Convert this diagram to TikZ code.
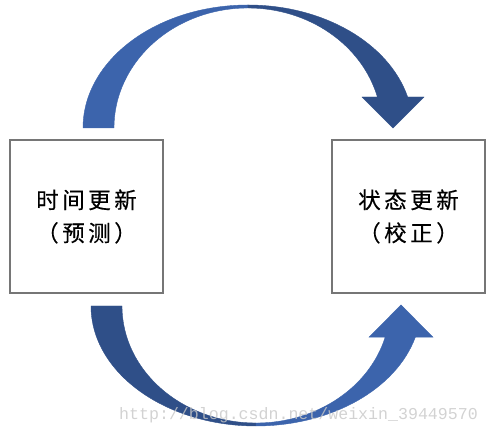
\documentclass[tikz,border=0pt]{standalone}
\usepackage{fontspec}
\newfontfamily\cjk[FakeBold=0.3]{Noto Sans CJK SC}
\newfontfamily\wmfont{Liberation Mono}
\definecolor{arrlight}{HTML}{3C64AC}
\definecolor{arrdark}{HTML}{2F4F88}
\definecolor{boxgray}{HTML}{767676}
\newcommand\cc[1]{\makebox[26pt]{#1}}
\tikzset{
  stbox/.style={draw=boxgray, line width=1.3pt, minimum width=153pt, minimum height=153pt, inner sep=0pt, align=center,
    font=\cjk\fontsize{22.5}{33}\selectfont},
  lightpart/.style={fill=arrlight, draw=arrlight, line width=0.4pt},
  darkpart/.style={fill=arrdark, draw=arrdark, line width=0.4pt},
  watermark/.style={anchor=base west, inner sep=0pt, text=black!22, opacity=0.8, font=\wmfont\fontsize{16.6}{20}\selectfont}
}
\begin{document}
\begin{tikzpicture}[x=1pt,y=1pt]
\useasboundingbox (0,0) rectangle (490,435);
% boxes
\node[stbox] (L) at (86.5,218.5) {\cc{时}\cc{间}\cc{更}\cc{新}\\\cc{（}\cc{预}\cc{测}\cc{）}};
\node[stbox] (R) at (408.5,218.5) {\cc{状}\cc{态}\cc{更}\cc{新}\\\cc{（}\cc{校}\cc{正}\cc{）}};
% top curved arrow (from L to R)
\fill[lightpart] (83,307) arc[start angle=180,end angle=90,x radius=165,y radius=123]
  -- (248,427) arc[start angle=90,end angle=180,x radius=134,y radius=120] -- cycle;
\fill[darkpart] (248,430) arc[start angle=90,end angle=14.6,x radius=165,y radius=123]
  -- (424,338) -- (393,307) -- (362,338) -- (377.4,338)
  arc[start angle=14.97,end angle=90,x radius=134,y radius=120] -- cycle;
% bottom curved arrow (from L to R)
\fill[darkpart] (91,129) arc[start angle=180,end angle=270,x radius=165,y radius=120]
  -- (256,12) arc[start angle=270,end angle=180,x radius=134,y radius=117] -- cycle;
\fill[lightpart] (256,9) arc[start angle=270,end angle=345,x radius=165,y radius=120]
  -- (433,97.9) -- (401,130) -- (369,97.9) -- (385.2,97.9)
  arc[start angle=344.6,end angle=270,x radius=134,y radius=117] -- cycle;
% watermark
\node[watermark] (wm) at (119,15) {http://blog.csdn.net/weixin\_39449570};
\end{tikzpicture}
\end{document}
